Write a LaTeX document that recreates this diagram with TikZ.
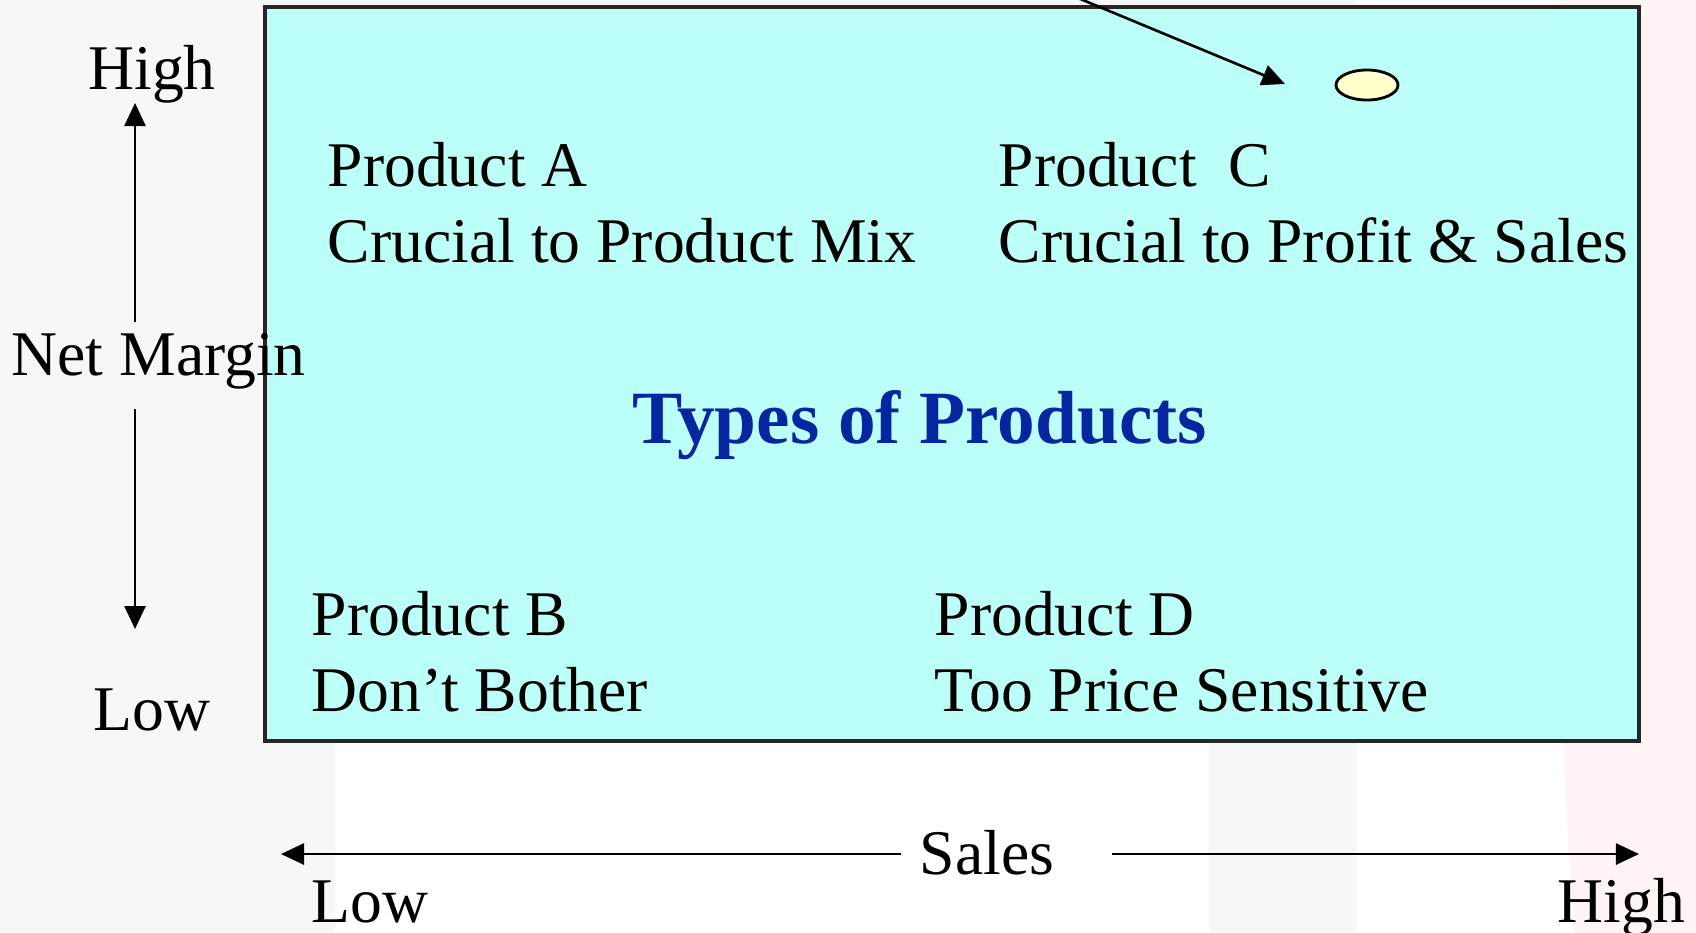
\documentclass[tikz,border=0pt]{standalone}
\usepackage{fontspec}
\setmainfont{Liberation Serif}
\usetikzlibrary{arrows.meta,shapes.geometric}

\definecolor{paneGray}{HTML}{F7F7F7}
\definecolor{panePink}{HTML}{FFF4F4}
\definecolor{quadFill}{HTML}{BBFFF8}
\definecolor{titleBlue}{HTML}{0526A0}
\definecolor{dotFill}{HTML}{FFFFCC}

\tikzset{
  lbl/.style={font=\fontsize{18.1}{21}\selectfont, inner sep=0pt, text=black},
  ttl/.style={font=\fontsize{21.4}{24}\selectfont\bfseries, inner sep=0pt, text=titleBlue},
  axis/.style={line width=0.75pt, -{Triangle[length=0.23cm,width=0.21cm]}},
  quad/.style={draw=black!85, line width=0.9pt, fill=quadFill},
}

\begin{document}
\begin{tikzpicture}[x=0.01cm, y=-0.01cm]
  \useasboundingbox (0,0) rectangle (1696,932);

  % faint backdrop panels
  \fill[white] (0,0) rectangle (1696,932);
  \fill[paneGray] (0,0) rectangle (335,932);
  \fill[paneGray] (335,0) rectangle (1357,7);
  \fill[paneGray] (1209,0) rectangle (1357,932);
  \fill[panePink] (1560,0) .. controls (1550,300) and (1555,700) .. (1575,932)
        -- (1696,932) -- (1696,0) -- cycle;

  % quadrant box
  \draw[quad] (265,7) rectangle (1639,741);

  % quadrant labels
  \node[lbl, anchor=base west] (pa)  at (327,186) {Product A};
  \node[lbl, anchor=base west] (pam) at (327,262) {Crucial to Product Mix};
  \node[lbl, anchor=base west] (pc)  at (998,186) {Product\ \ C};
  \node[lbl, anchor=base west] (pcm) at (998,262) {Crucial to Profit \& Sales};
  \node[ttl, anchor=base west] (title) at (632,443) {Types of Products};
  \node[lbl, anchor=base west] (pb)  at (311,635) {Product B};
  \node[lbl, anchor=base west] (pbm) at (311,711) {Don’t Bother};
  \node[lbl, anchor=base west] (pd)  at (934,635) {Product D};
  \node[lbl, anchor=base west] (pdm) at (934,711) {Too Price Sensitive};

  % marker dot and pointer
  \node[ellipse, draw=black, line width=0.8pt, fill=dotFill,
        minimum width=0.62cm, minimum height=0.30cm, inner sep=0pt] (dot) at (1367,85) {};
  \coordinate (ptrFrom) at (1078,-2);
  \coordinate (ptrTo) at (1285,84);
  \draw[axis] (ptrFrom) -- (ptrTo);

  % vertical axis: net margin
  \node[lbl, anchor=base] (hiY)  at (152,89)  {High};
  \node[lbl, anchor=base west] (netm) at (11,375) {Net Margin};
  \node[lbl, anchor=base] (loY)  at (152,730) {Low};
  \coordinate (upFrom) at (135,322);
  \coordinate (upTo)   at (135,103);
  \coordinate (dnFrom) at (135,409);
  \coordinate (dnTo)   at (135,629);
  \draw[axis] (upFrom) -- (upTo);
  \draw[axis] (dnFrom) -- (dnTo);

  % horizontal axis: sales
  \node[lbl, anchor=base west] (sales) at (919,874) {Sales};
  \node[lbl, anchor=base west] (loX) at (311,922) {Low};
  \node[lbl, anchor=base west] (hiX) at (1557,922) {High};
  \coordinate (lfFrom) at (901,854);
  \coordinate (lfTo)   at (281,854);
  \coordinate (rtFrom) at (1112,854);
  \coordinate (rtTo)   at (1639,854);
  \draw[axis] (lfFrom) -- (lfTo);
  \draw[axis] (rtFrom) -- (rtTo);
\end{tikzpicture}
\end{document}
